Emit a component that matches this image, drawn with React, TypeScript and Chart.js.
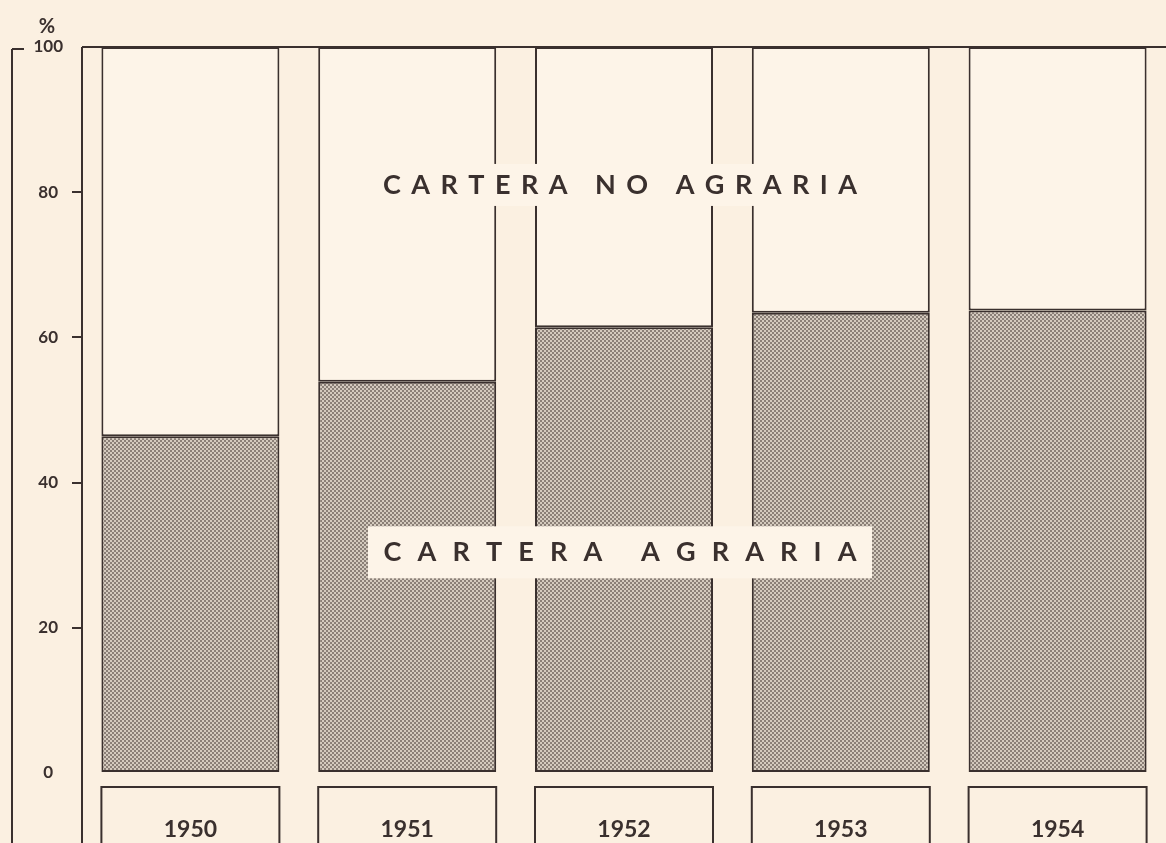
import React, { useEffect, useRef } from "react";
import { Chart, registerables } from "chart.js";
Chart.register(...registerables);

const years = ["1950", "1951", "1952", "1953", "1954"];
const agraria = [46.4, 53.9, 61.4, 63.4, 63.7];
const noAgraria = [53.6, 46.1, 38.6, 36.6, 36.3];
const yMin = 0;
const yMax = 100;
const yStep = 20;
const labelNoAgraria = "CARTERA NO AGRARIA";
const labelAgraria = "CARTERA AGRARIA";
const unitLabel = "%";

const W = 1166;
const H = 843;
const BG = "#fbf0e1";
const BAR_LIGHT = "#fdf4e8";
const INK = "#3a302e";
const FONT = "Lato, 'Open Sans', sans-serif";

function makePattern(ctx: CanvasRenderingContext2D) {
  const c = document.createElement("canvas");
  c.width = 4;
  c.height = 4;
  const g = c.getContext("2d")!;
  g.fillStyle = "#d4cabe";
  g.fillRect(0, 0, 4, 4);
  g.fillStyle = "#8a7f77";
  g.fillRect(0, 0, 2, 2);
  g.fillRect(2, 2, 2, 2);
  return ctx.createPattern(c, "repeat")!;
}

function drawSpaced(ctx: CanvasRenderingContext2D, text: string, cx: number, cy: number, totalW: number) {
  const chars = text.split("");
  const widths = chars.map((ch) => ctx.measureText(ch).width);
  const sum = widths.reduce((a, b) => a + b, 0);
  const gap = (totalW - sum) / (chars.length - 1);
  let x = cx - totalW / 2;
  ctx.textAlign = "left";
  ctx.textBaseline = "middle";
  chars.forEach((ch, i) => {
    ctx.fillText(ch, x, cy);
    x += widths[i] + gap;
  });
}

const decor = {
  id: "decor",
  beforeDraw(chart: any) {
    const ctx = chart.ctx;
    ctx.save();
    ctx.fillStyle = BG;
    ctx.fillRect(0, 0, chart.width, chart.height);
    ctx.restore();
  },
  afterDraw(chart: any) {
    const { ctx, chartArea, scales } = chart;
    const ys = scales.y;
    const meta = chart.getDatasetMeta(0);
    ctx.save();
    ctx.strokeStyle = INK;
    ctx.lineWidth = 2;
    const line = (x1: number, y1: number, x2: number, y2: number) => {
      ctx.beginPath();
      ctx.moveTo(x1, y1);
      ctx.lineTo(x2, y2);
      ctx.stroke();
    };
    // axis and frame
    line(chartArea.left, chartArea.top, chartArea.left, chart.height);
    line(chartArea.left, chartArea.top, chart.width, chartArea.top);
    line(12, chartArea.top + 2, 12, chart.height);
    line(12, chartArea.top + 2, 24, chartArea.top + 2);

    // year boxes
    meta.data.forEach((bar: any) => {
      const p = bar.getProps(["x", "width"], true);
      ctx.strokeRect(p.x - p.width / 2, chartArea.bottom + 14, p.width, 100);
    });

    // annotations
    const cx = meta.data[2].x - 4;
    ctx.font = `bold 27px ${FONT}`;
    const y1 = ys.getPixelForValue(81);
    ctx.fillStyle = BAR_LIGHT;
    ctx.fillRect(cx - 250, y1 - 21, 500, 42);
    ctx.fillStyle = INK;
    drawSpaced(ctx, labelNoAgraria, cx, y1, 474);

    const y2 = ys.getPixelForValue(30.4);
    ctx.fillStyle = BAR_LIGHT;
    ctx.fillRect(cx - 252, y2 - 26, 504, 52);
    ctx.fillStyle = INK;
    drawSpaced(ctx, labelAgraria, cx, y2, 473);

    // unit label
    ctx.font = `bold 20px ${FONT}`;
    ctx.textAlign = "center";
    ctx.textBaseline = "middle";
    ctx.fillText(unitLabel, 47, 27);
    ctx.restore();
  },
};

export default function App() {
  const ref = useRef<HTMLCanvasElement | null>(null);
  useEffect(() => {
    document.body.style.margin = "0";
    document.body.style.background = BG;
    const canvas = ref.current!;
    const ctx = canvas.getContext("2d")!;
    const pattern = makePattern(ctx);
    const chart = new Chart(canvas, {
      type: "bar",
      data: {
        labels: years,
        datasets: [
          {
            label: labelAgraria,
            data: agraria,
            backgroundColor: pattern as any,
            borderColor: INK,
            borderWidth: 2,
            borderSkipped: false,
            categoryPercentage: 1,
            barPercentage: 0.821,
          },
          {
            label: labelNoAgraria,
            data: noAgraria,
            backgroundColor: BAR_LIGHT,
            borderColor: INK,
            borderWidth: 2,
            borderSkipped: false,
            categoryPercentage: 1,
            barPercentage: 0.821,
          },
        ],
      },
      options: {
        responsive: false,
        animation: false,
        events: [],
        layout: { padding: { top: 47, left: 0, right: 0, bottom: 0 } },
        plugins: { legend: { display: false }, tooltip: { enabled: false } },
        scales: {
          x: {
            stacked: true,
            grid: { display: false },
            border: { display: false },
            ticks: { color: INK, font: { family: FONT, size: 23, weight: "bold" }, padding: 35 },
            afterFit: (s: any) => {
              s.height = 70;
            },
          },
          y: {
            stacked: true,
            min: yMin,
            max: yMax,
            border: { display: false },
            grid: {
              drawOnChartArea: false,
              tickLength: 10,
              lineWidth: 2,
              tickColor: (c: any) =>
                c.tick && (c.tick.value === yMin || c.tick.value === yMax) ? "rgba(0,0,0,0)" : INK,
            },
            ticks: {
              stepSize: yStep,
              color: INK,
              crossAlign: "center",
              padding: 9,
              font: { family: FONT, size: 17, weight: "bold" },
            },
            afterFit: (s: any) => {
              s.width = 82;
            },
          },
        },
      },
      plugins: [decor],
    });
    return () => chart.destroy();
  }, []);
  return (
    <div style={{ width: W, height: H }}>
      <canvas ref={ref} width={W} height={H} style={{ display: "block" }} />
    </div>
  );
}
